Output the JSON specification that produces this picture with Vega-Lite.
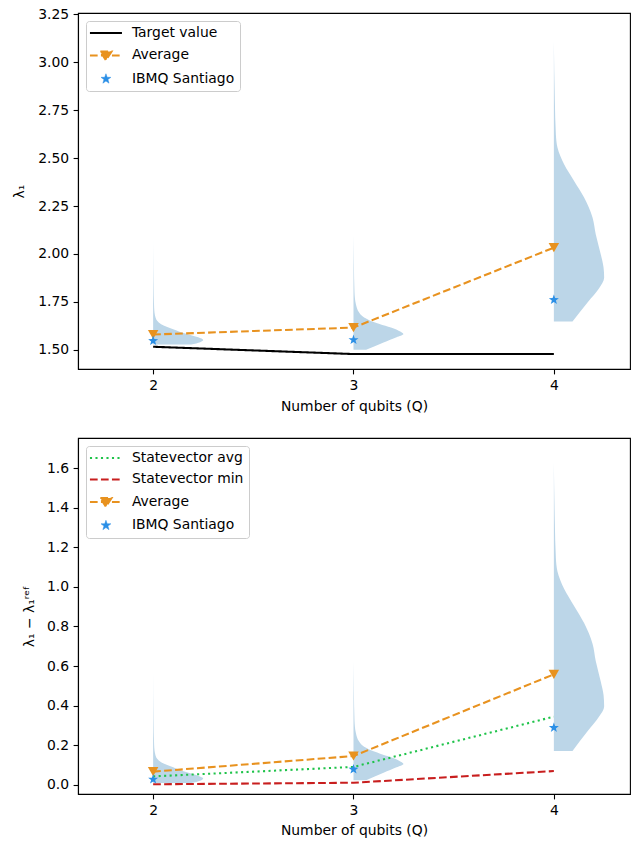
{
  "$schema": "https://vega.github.io/schema/vega-lite/v6.json",
  "padding": {"left": 11, "top": 6, "right": 5, "bottom": 5},
  "background": "white",
  "spacing": 69,
  "bounds": "flush",
  "config": {
    "font": "DejaVu Sans",
    "view": {"stroke": "black", "strokeWidth": 1.1},
    "axis": {
      "labelFont": "DejaVu Sans", "labelFontSize": 13.9, "labelColor": "black",
      "titleFont": "DejaVu Sans", "titleFontSize": 13.9, "titleFontWeight": "normal", "titleColor": "black",
      "tickColor": "black", "tickSize": 4.9, "tickWidth": 1.1,
      "domainColor": "black", "domainWidth": 1.1, "grid": false,
      "labelPadding": 4.5, "labelFlush": false, "labelOverlap": false
    },
    "legend": {
      "orient": "top-left", "offset": 8, "padding": 5, "symbolSize": 256,
      "labelOffset": 27, "rowPadding": 6.5,
      "strokeColor": "#cccccc", "fillColor": "rgba(255,255,255,0.8)", "cornerRadius": 3,
      "labelFont": "DejaVu Sans", "labelFontSize": 13.9, "labelColor": "black", "labelLimit": 400
    }
  },
  "resolve": {
    "scale": {"color": "independent", "strokeDash": "independent"},
    "legend": {"color": "independent"}
  },
  "datasets": {
    "violin_top": [
      {"Q": 2, "lam": 1.528, "lo": 2, "hi": 2.19},
      {"Q": 2, "lam": 1.540, "lo": 2, "hi": 2.235},
      {"Q": 2, "lam": 1.551, "lo": 2, "hi": 2.25},
      {"Q": 2, "lam": 1.565, "lo": 2, "hi": 2.225},
      {"Q": 2, "lam": 1.585, "lo": 2, "hi": 2.16},
      {"Q": 2, "lam": 1.608, "lo": 2, "hi": 2.10},
      {"Q": 2, "lam": 1.634, "lo": 2, "hi": 2.04},
      {"Q": 2, "lam": 1.668, "lo": 2, "hi": 2.012},
      {"Q": 2, "lam": 1.72, "lo": 2, "hi": 2.005},
      {"Q": 2, "lam": 1.85, "lo": 2, "hi": 2.002},
      {"Q": 2, "lam": 2.085, "lo": 2, "hi": 2.0},
      {"Q": 3, "lam": 1.500, "lo": 3, "hi": 3.063},
      {"Q": 3, "lam": 1.538, "lo": 3, "hi": 3.15},
      {"Q": 3, "lam": 1.565, "lo": 3, "hi": 3.215},
      {"Q": 3, "lam": 1.582, "lo": 3, "hi": 3.249},
      {"Q": 3, "lam": 1.600, "lo": 3, "hi": 3.225},
      {"Q": 3, "lam": 1.616, "lo": 3, "hi": 3.187},
      {"Q": 3, "lam": 1.635, "lo": 3, "hi": 3.13},
      {"Q": 3, "lam": 1.651, "lo": 3, "hi": 3.087},
      {"Q": 3, "lam": 1.675, "lo": 3, "hi": 3.045},
      {"Q": 3, "lam": 1.695, "lo": 3, "hi": 3.028},
      {"Q": 3, "lam": 1.738, "lo": 3, "hi": 3.012},
      {"Q": 3, "lam": 1.80, "lo": 3, "hi": 3.005},
      {"Q": 3, "lam": 1.95, "lo": 3, "hi": 3.002},
      {"Q": 3, "lam": 2.10, "lo": 3, "hi": 3.0},
      {"Q": 4, "lam": 1.648, "lo": 4, "hi": 4.093},
      {"Q": 4, "lam": 1.75, "lo": 4, "hi": 4.17},
      {"Q": 4, "lam": 1.82, "lo": 4, "hi": 4.225},
      {"Q": 4, "lam": 1.877, "lo": 4, "hi": 4.251},
      {"Q": 4, "lam": 1.93, "lo": 4, "hi": 4.248},
      {"Q": 4, "lam": 1.999, "lo": 4, "hi": 4.234},
      {"Q": 4, "lam": 2.103, "lo": 4, "hi": 4.209},
      {"Q": 4, "lam": 2.190, "lo": 4, "hi": 4.193},
      {"Q": 4, "lam": 2.294, "lo": 4, "hi": 4.151},
      {"Q": 4, "lam": 2.381, "lo": 4, "hi": 4.101},
      {"Q": 4, "lam": 2.468, "lo": 4, "hi": 4.051},
      {"Q": 4, "lam": 2.555, "lo": 4, "hi": 4.018},
      {"Q": 4, "lam": 2.624, "lo": 4, "hi": 4.010},
      {"Q": 4, "lam": 2.798, "lo": 4, "hi": 4.005},
      {"Q": 4, "lam": 3.111, "lo": 4, "hi": 4.0}
    ],
    "lines_top": [
      {"series": "Target value", "Q": 2, "val": 1.516},
      {"series": "Target value", "Q": 3, "val": 1.478},
      {"series": "Target value", "Q": 4, "val": 1.478},
      {"series": "Average", "Q": 2, "val": 1.58},
      {"series": "Average", "Q": 3, "val": 1.616},
      {"series": "Average", "Q": 4, "val": 2.033}
    ],
    "points_top": [
      {"series": "Average", "Q": 2, "val": 1.58},
      {"series": "Average", "Q": 3, "val": 1.616},
      {"series": "Average", "Q": 4, "val": 2.033},
      {"series": "IBMQ Santiago", "Q": 2, "val": 1.547},
      {"series": "IBMQ Santiago", "Q": 3, "val": 1.552},
      {"series": "IBMQ Santiago", "Q": 4, "val": 1.761}
    ],
    "violin_bot": [
      {"Q": 2, "lam": 0.008, "lo": 2, "hi": 2.19},
      {"Q": 2, "lam": 0.020, "lo": 2, "hi": 2.235},
      {"Q": 2, "lam": 0.031, "lo": 2, "hi": 2.25},
      {"Q": 2, "lam": 0.045, "lo": 2, "hi": 2.225},
      {"Q": 2, "lam": 0.065, "lo": 2, "hi": 2.16},
      {"Q": 2, "lam": 0.088, "lo": 2, "hi": 2.10},
      {"Q": 2, "lam": 0.114, "lo": 2, "hi": 2.04},
      {"Q": 2, "lam": 0.148, "lo": 2, "hi": 2.012},
      {"Q": 2, "lam": 0.200, "lo": 2, "hi": 2.005},
      {"Q": 2, "lam": 0.330, "lo": 2, "hi": 2.002},
      {"Q": 2, "lam": 0.570, "lo": 2, "hi": 2.0},
      {"Q": 3, "lam": 0.023, "lo": 3, "hi": 3.063},
      {"Q": 3, "lam": 0.061, "lo": 3, "hi": 3.15},
      {"Q": 3, "lam": 0.088, "lo": 3, "hi": 3.215},
      {"Q": 3, "lam": 0.105, "lo": 3, "hi": 3.249},
      {"Q": 3, "lam": 0.123, "lo": 3, "hi": 3.225},
      {"Q": 3, "lam": 0.139, "lo": 3, "hi": 3.187},
      {"Q": 3, "lam": 0.158, "lo": 3, "hi": 3.13},
      {"Q": 3, "lam": 0.174, "lo": 3, "hi": 3.087},
      {"Q": 3, "lam": 0.198, "lo": 3, "hi": 3.045},
      {"Q": 3, "lam": 0.218, "lo": 3, "hi": 3.028},
      {"Q": 3, "lam": 0.261, "lo": 3, "hi": 3.012},
      {"Q": 3, "lam": 0.323, "lo": 3, "hi": 3.005},
      {"Q": 3, "lam": 0.473, "lo": 3, "hi": 3.002},
      {"Q": 3, "lam": 0.625, "lo": 3, "hi": 3.0},
      {"Q": 4, "lam": 0.171, "lo": 4, "hi": 4.093},
      {"Q": 4, "lam": 0.273, "lo": 4, "hi": 4.17},
      {"Q": 4, "lam": 0.343, "lo": 4, "hi": 4.225},
      {"Q": 4, "lam": 0.395, "lo": 4, "hi": 4.251},
      {"Q": 4, "lam": 0.453, "lo": 4, "hi": 4.248},
      {"Q": 4, "lam": 0.522, "lo": 4, "hi": 4.234},
      {"Q": 4, "lam": 0.626, "lo": 4, "hi": 4.209},
      {"Q": 4, "lam": 0.713, "lo": 4, "hi": 4.193},
      {"Q": 4, "lam": 0.817, "lo": 4, "hi": 4.151},
      {"Q": 4, "lam": 0.904, "lo": 4, "hi": 4.101},
      {"Q": 4, "lam": 0.991, "lo": 4, "hi": 4.051},
      {"Q": 4, "lam": 1.078, "lo": 4, "hi": 4.018},
      {"Q": 4, "lam": 1.147, "lo": 4, "hi": 4.010},
      {"Q": 4, "lam": 1.321, "lo": 4, "hi": 4.005},
      {"Q": 4, "lam": 1.630, "lo": 4, "hi": 4.0}
    ],
    "lines_bot": [
      {"series": "Statevector avg", "Q": 2, "val": 0.042},
      {"series": "Statevector avg", "Q": 3, "val": 0.090},
      {"series": "Statevector avg", "Q": 4, "val": 0.344},
      {"series": "Statevector min", "Q": 2, "val": 0.002},
      {"series": "Statevector min", "Q": 3, "val": 0.010},
      {"series": "Statevector min", "Q": 4, "val": 0.069},
      {"series": "Average", "Q": 2, "val": 0.066},
      {"series": "Average", "Q": 3, "val": 0.145},
      {"series": "Average", "Q": 4, "val": 0.558}
    ],
    "points_bot": [
      {"series": "Average", "Q": 2, "val": 0.066},
      {"series": "Average", "Q": 3, "val": 0.145},
      {"series": "Average", "Q": 4, "val": 0.558},
      {"series": "IBMQ Santiago", "Q": 2, "val": 0.027},
      {"series": "IBMQ Santiago", "Q": 3, "val": 0.078},
      {"series": "IBMQ Santiago", "Q": 4, "val": 0.288}
    ]
  },
  "vconcat": [
    {
      "width": 552,
      "height": 356,
      "layer": [
        {
          "data": {"name": "violin_top"},
          "mark": {"type": "area", "orient": "horizontal", "interpolate": "monotone", "color": "#bcd6e8", "opacity": 1},
          "encoding": {
            "y": {"field": "lam", "type": "quantitative",
                  "scale": {"domain": [1.40, 3.257], "nice": false, "zero": false},
                  "axis": {"values": [1.5, 1.75, 2, 2.25, 2.5, 2.75, 3, 3.25], "format": ".2f",
                           "title": "λ₁", "titleX": -59, "titleBaseline": "middle"}},
            "x": {"field": "lo", "type": "quantitative",
                  "scale": {"domain": [1.625, 4.38], "nice": false, "zero": false},
                  "axis": {"values": [2, 3, 4], "format": "d", "title": "Number of qubits (Q)", "titlePadding": 7}},
            "x2": {"field": "hi"},
            "detail": {"field": "Q", "type": "nominal"}
          }
        },
        {
          "data": {"name": "lines_top"},
          "mark": {"type": "line", "strokeWidth": 2.08},
          "encoding": {
            "x": {"field": "Q", "type": "quantitative"},
            "y": {"field": "val", "type": "quantitative"},
            "color": {"field": "series", "type": "nominal",
                      "scale": {"domain": ["Target value", "Average", "IBMQ Santiago"], "range": ["black", "#E8921F", "#2B8FE6"]},
                      "legend": {"title": null,
                        "encode": {"symbols": {"update": {
                          "shape": {"signal": "datum.value==='Average' ? 'M-1,0L3,0M0.3,-0.5L1.7,-0.5L1,0.6Z' : datum.value==='IBMQ Santiago' ? 'M1,-0.65L1.153,-0.21L1.618,-0.201L1.247,0.08L1.382,0.526L1,0.26L0.618,0.526L0.753,0.08L0.382,-0.201L0.847,-0.21Z' : 'M-1,0L3,0'"},
                          "stroke": {"signal": "datum.value==='Target value' ? 'black' : datum.value==='Average' ? '#E8921F' : datum.value==='IBMQ Santiago' ? '#2B8FE6' : datum.value==='Statevector avg' ? '#1FC34A' : '#C81E1E'"},
                          "fill": {"signal": "datum.value==='Average' ? '#E8921F' : datum.value==='IBMQ Santiago' ? '#2B8FE6' : 'transparent'"},
                          "strokeDash": {"signal": "(datum.value==='Average' || datum.value==='Statevector min') ? [7.7,3.3] : datum.value==='Statevector avg' ? [2.1,3.4] : []"},
                          "strokeWidth": {"signal": "datum.value==='IBMQ Santiago' ? 0.5 : 2.08"},
                          "opacity": {"value": 1}
                        }}}}},
            "strokeDash": {"field": "series", "type": "nominal", "legend": null,
                           "scale": {"domain": ["Target value", "Average"], "range": [[1, 0], [7.7, 3.3]]}}
          }
        },
        {
          "data": {"name": "points_top"},
          "transform": [{"filter": "datum.series === 'Average'"}],
          "mark": {"type": "point", "shape": "triangle-down", "filled": true, "size": 110, "opacity": 1},
          "encoding": {
            "x": {"field": "Q", "type": "quantitative"},
            "y": {"field": "val", "type": "quantitative"},
            "color": {"field": "series", "type": "nominal"}
          }
        },
        {
          "data": {"name": "points_top"},
          "transform": [{"filter": "datum.series === 'IBMQ Santiago'"}],
          "mark": {"type": "point", "shape": "M0,-1L0.235,-0.324L0.951,-0.309L0.38,0.124L0.588,0.809L0,0.4L-0.588,0.809L-0.38,0.124L-0.951,-0.309L-0.235,-0.324Z", "filled": true, "size": 110, "opacity": 1},
          "encoding": {
            "x": {"field": "Q", "type": "quantitative"},
            "y": {"field": "val", "type": "quantitative"},
            "color": {"field": "series", "type": "nominal"}
          }
        }
      ]
    },
    {
      "width": 552,
      "height": 356,
      "layer": [
        {
          "data": {"name": "violin_bot"},
          "mark": {"type": "area", "orient": "horizontal", "interpolate": "monotone", "color": "#bcd6e8", "opacity": 1},
          "encoding": {
            "y": {"field": "lam", "type": "quantitative",
                  "scale": {"domain": [-0.047, 1.753], "nice": false, "zero": false},
                  "axis": {"values": [0, 0.2, 0.4, 0.6, 0.8, 1.0, 1.2, 1.4, 1.6], "format": ".1f",
                           "title": "λ₁ − λ₁ʳᵉᶠ", "titleX": -49, "titleBaseline": "middle"}},
            "x": {"field": "lo", "type": "quantitative",
                  "scale": {"domain": [1.625, 4.38], "nice": false, "zero": false},
                  "axis": {"values": [2, 3, 4], "format": "d", "title": "Number of qubits (Q)", "titlePadding": 6}},
            "x2": {"field": "hi"},
            "detail": {"field": "Q", "type": "nominal"}
          }
        },
        {
          "data": {"name": "lines_bot"},
          "mark": {"type": "line", "strokeWidth": 2.08},
          "encoding": {
            "x": {"field": "Q", "type": "quantitative"},
            "y": {"field": "val", "type": "quantitative"},
            "color": {"field": "series", "type": "nominal",
                      "scale": {"domain": ["Statevector avg", "Statevector min", "Average", "IBMQ Santiago"], "range": ["#1FC34A", "#C81E1E", "#E8921F", "#2B8FE6"]},
                      "legend": {"title": null,
                        "encode": {"symbols": {"update": {
                          "shape": {"signal": "datum.value==='Average' ? 'M-1,0L3,0M0.3,-0.5L1.7,-0.5L1,0.6Z' : datum.value==='IBMQ Santiago' ? 'M1,-0.65L1.153,-0.21L1.618,-0.201L1.247,0.08L1.382,0.526L1,0.26L0.618,0.526L0.753,0.08L0.382,-0.201L0.847,-0.21Z' : 'M-1,0L3,0'"},
                          "stroke": {"signal": "datum.value==='Target value' ? 'black' : datum.value==='Average' ? '#E8921F' : datum.value==='IBMQ Santiago' ? '#2B8FE6' : datum.value==='Statevector avg' ? '#1FC34A' : '#C81E1E'"},
                          "fill": {"signal": "datum.value==='Average' ? '#E8921F' : datum.value==='IBMQ Santiago' ? '#2B8FE6' : 'transparent'"},
                          "strokeDash": {"signal": "(datum.value==='Average' || datum.value==='Statevector min') ? [7.7,3.3] : datum.value==='Statevector avg' ? [2.1,3.4] : []"},
                          "strokeWidth": {"signal": "datum.value==='IBMQ Santiago' ? 0.5 : 2.08"},
                          "opacity": {"value": 1}
                        }}}}},
            "strokeDash": {"field": "series", "type": "nominal", "legend": null,
                           "scale": {"domain": ["Statevector avg", "Statevector min", "Average"], "range": [[2.1, 3.4], [7.7, 3.3], [7.7, 3.3]]}}
          }
        },
        {
          "data": {"name": "points_bot"},
          "transform": [{"filter": "datum.series === 'Average'"}],
          "mark": {"type": "point", "shape": "triangle-down", "filled": true, "size": 110, "opacity": 1},
          "encoding": {
            "x": {"field": "Q", "type": "quantitative"},
            "y": {"field": "val", "type": "quantitative"},
            "color": {"field": "series", "type": "nominal"}
          }
        },
        {
          "data": {"name": "points_bot"},
          "transform": [{"filter": "datum.series === 'IBMQ Santiago'"}],
          "mark": {"type": "point", "shape": "M0,-1L0.235,-0.324L0.951,-0.309L0.38,0.124L0.588,0.809L0,0.4L-0.588,0.809L-0.38,0.124L-0.951,-0.309L-0.235,-0.324Z", "filled": true, "size": 110, "opacity": 1},
          "encoding": {
            "x": {"field": "Q", "type": "quantitative"},
            "y": {"field": "val", "type": "quantitative"},
            "color": {"field": "series", "type": "nominal"}
          }
        }
      ]
    }
  ]
}
